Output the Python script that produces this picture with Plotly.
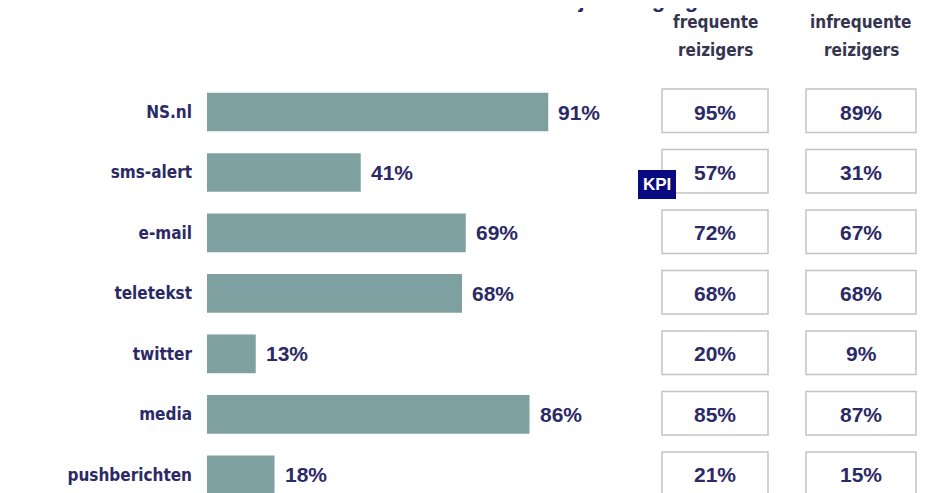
import plotly.graph_objects as go

kanalen = ["NS.nl", "sms-alert", "e-mail", "teletekst", "twitter", "media", "pushberichten"]
totaal = [91, 41, 69, 68, 13, 86, 18]
frequent = [95, 57, 72, 68, 20, 85, 21]
infrequent = [89, 31, 67, 68, 9, 87, 15]
kolommen = ["frequente<br>reizigers", "infrequente<br>reizigers"]

navy = "#2b2a66"
bar_kleur = "#7fa0a0"
W, H = 925, 485  # pagina heeft 8px marge

fig = go.Figure()

fig.add_trace(go.Bar(
    x=totaal,
    y=kanalen,
    orientation="h",
    marker=dict(color=bar_kleur, line=dict(width=0)),
    width=0.64,
    hoverinfo="skip"
))

# percentages achter de balken
for k, v in zip(kanalen, totaal):
    fig.add_annotation(x=v, y=k, text=f"<b>{v}%</b>", xanchor="left", xshift=8,
                       showarrow=False, font=dict(size=21, color=navy, family="Liberation Sans, Arial"))

# tabel met frequente / infrequente reizigers
col_x = [(654, 760), (798, 908)]
for (x0, x1), reeks in zip(col_x, [frequent, infrequent]):
    for i, (k, v) in enumerate(zip(kanalen, reeks)):
        fig.add_shape(type="rect", xref="paper", yref="y",
                      x0=x0 / W, x1=x1 / W, y0=i - 0.38, y1=i + 0.34,
                      line=dict(color="#c4c4c4", width=1.5), fillcolor="white", layer="below")
        fig.add_annotation(x=(x0 + x1) / 2 / W, xref="paper", xanchor="center", y=k, text=f"<b>{v}%</b>",
                           showarrow=False, font=dict(size=21, color=navy, family="Liberation Sans, Arial"))

# kolomkoppen, regel voor regel
for (x0, x1), kop in zip(col_x, kolommen):
    for j, regel in enumerate(kop.split("<br>")):
        fig.add_annotation(x=(x0 + x1) / 2 / W, xref="paper", xanchor="center",
                           y=1, yref="paper", yanchor="middle", yshift=-14 - 28 * j,
                           text=f"<b>{regel}</b>", showarrow=False,
                           font=dict(size=17, color="#35354f", family="DejaVu Sans Condensed"))

# titel valt grotendeels buiten beeld
fig.add_annotation(x=500 / W, xref="paper", xanchor="center", y=1, yref="paper", yanchor="bottom", yshift=-6,
                   text="<b>Gebruik reisinformatie bij vertraging</b>", showarrow=False,
                   font=dict(size=22, color=navy, family="Liberation Sans, Arial"))

# KPI badge
fig.add_annotation(x=649 / W, xref="paper", xanchor="center", y=1, yref="y", text="<b>KPI</b>",
                   showarrow=False, yshift=-12, bgcolor="#0a0a80", bordercolor="#0a0a80", borderpad=4,
                   font=dict(size=17, color="white", family="Liberation Sans, Arial"))

fig.update_layout(
    width=W, height=H,
    margin=dict(l=0, r=0, t=0, b=0),
    paper_bgcolor="white", plot_bgcolor="white",
    showlegend=False,
    bargap=0.36,
    xaxis=dict(domain=[199 / W, 574 / W], range=[0, 100], visible=False, fixedrange=True),
    yaxis=dict(range=[6.3, -1.72], showgrid=False, zeroline=False, showline=False,
               ticks="", ticklabelstandoff=14,
               tickfont=dict(size=17, color=navy, family="DejaVu Sans Condensed")),
)
fig.update_yaxes(tickprefix="<b>", ticksuffix="</b>")

fig.write_html("out.html")
